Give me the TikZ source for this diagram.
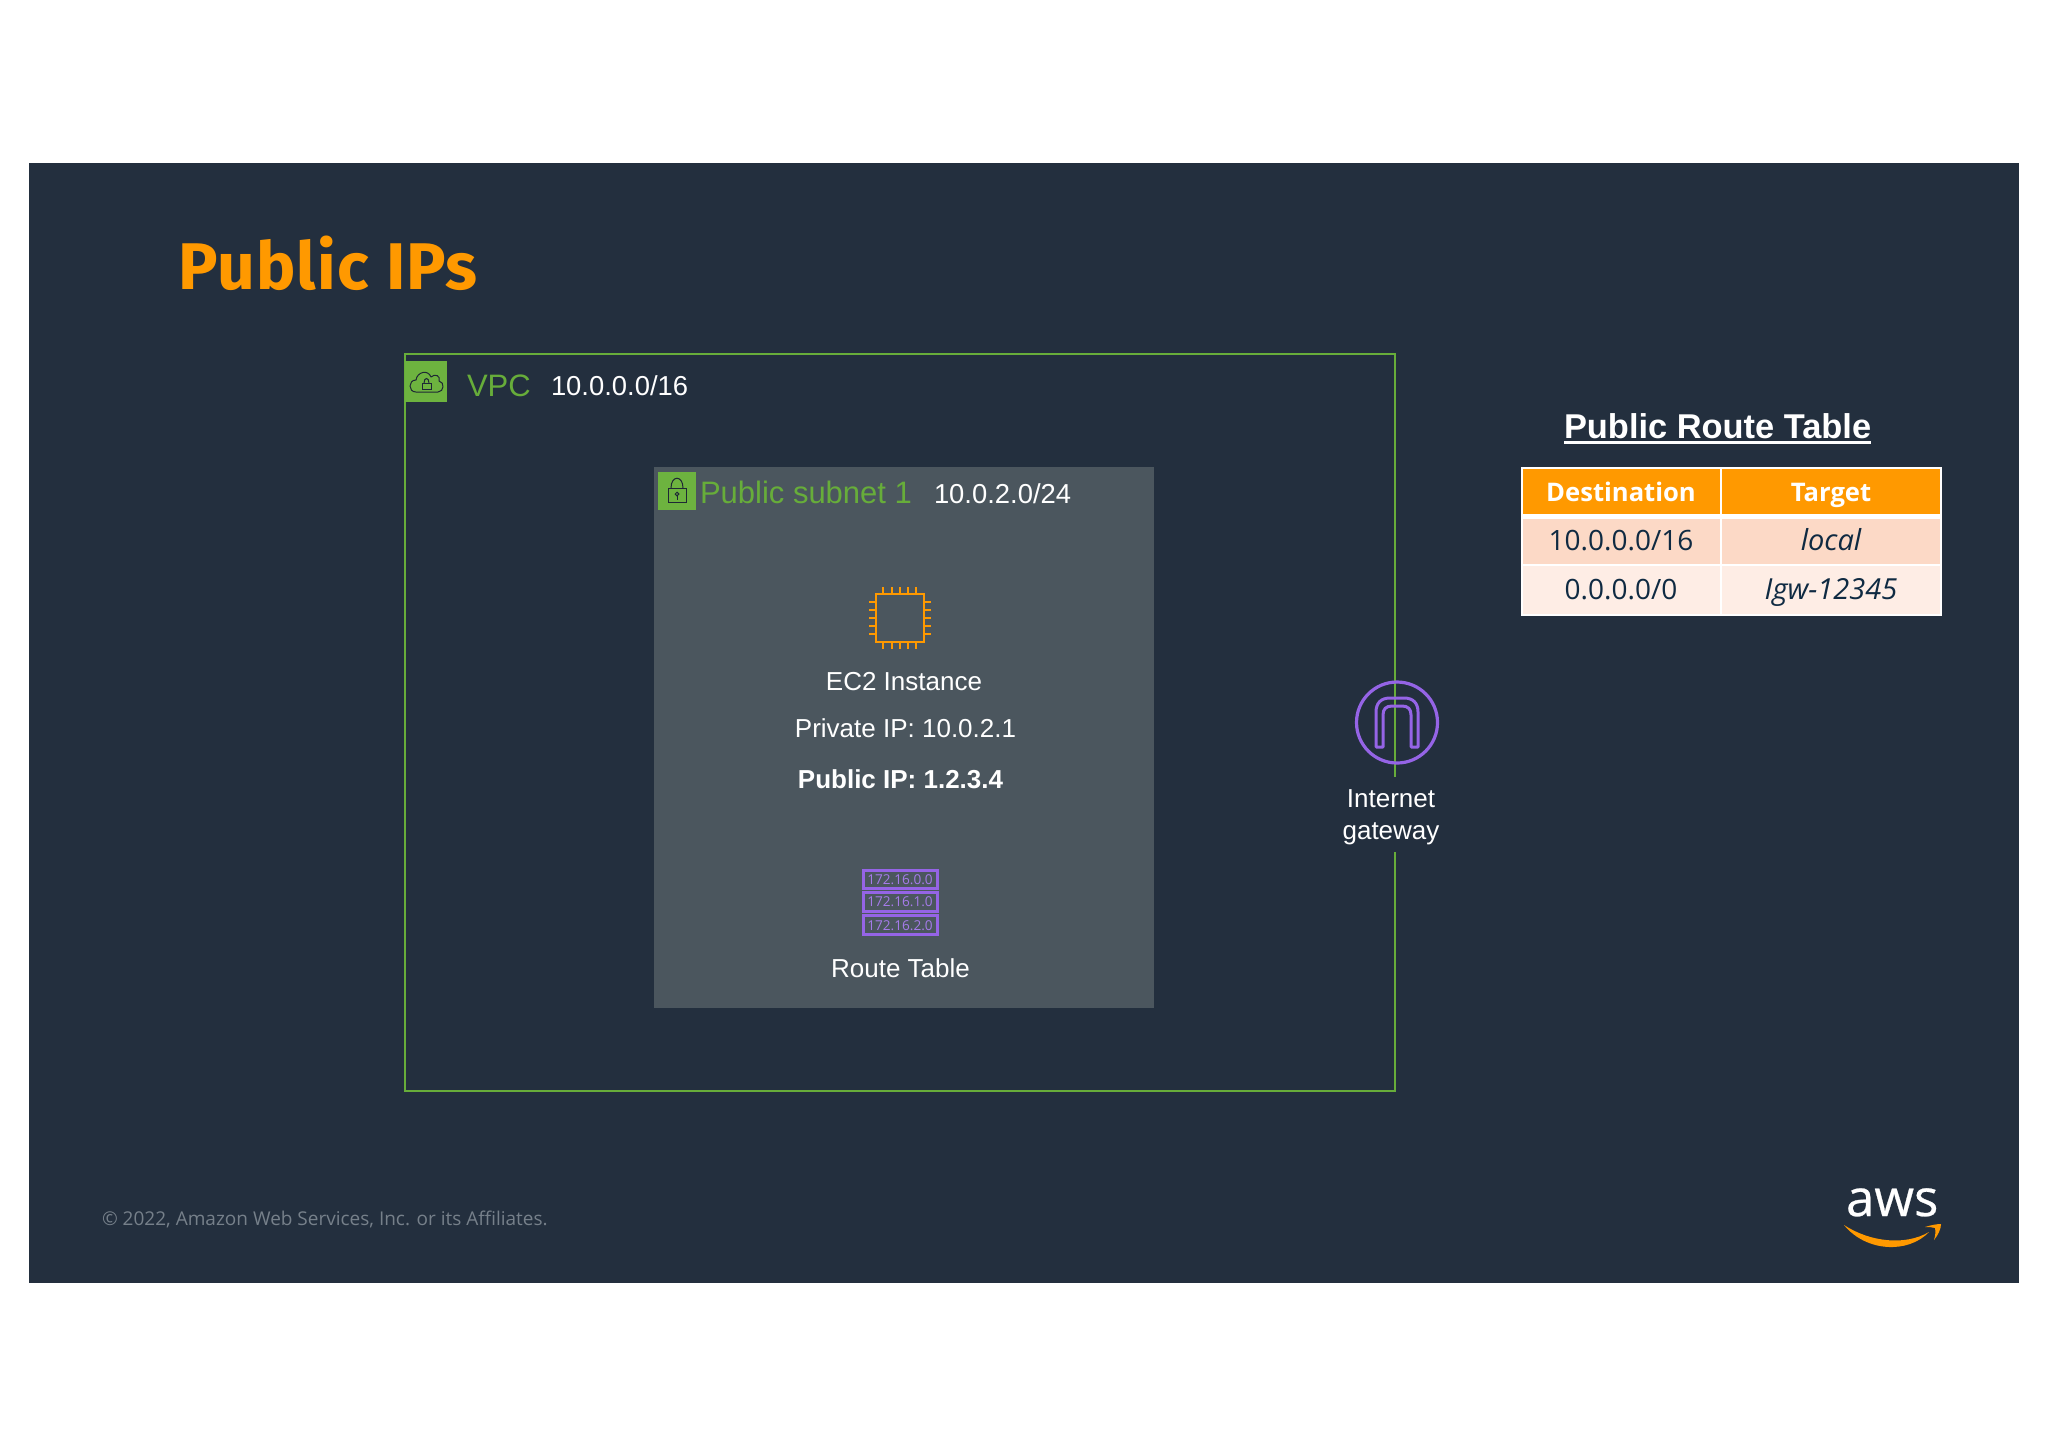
\documentclass[tikz,border=0pt]{standalone}
\usepackage{fontspec}
\setmainfont{Liberation Sans}
\newfontfamily\emberfont{Open Sans}
\newfontfamily\titlefont[LetterSpace=1.9]{Fira Sans}
\newfontfamily\awsfont[FakeBold=0.5]{Open Sans}
\definecolor{panelbg}{HTML}{232F3E}
\definecolor{subnetbg}{HTML}{4B565E}
\definecolor{awsgreen}{HTML}{67AD3A}
\definecolor{tagfill}{HTML}{6DB33F}
\definecolor{awsorange}{HTML}{FF9900}
\definecolor{awspurple}{HTML}{9564E6}
\definecolor{rowa}{HTML}{FCD9C6}
\definecolor{rowb}{HTML}{FEEDE5}
\definecolor{celltext}{HTML}{0F2A42}
\definecolor{footgrey}{HTML}{76808A}
\newcommand{\fsz}[1]{\fontsize{#1}{#1}\selectfont}
\tikzset{
  lbl/.style={inner sep=0pt,outer sep=0pt,anchor=base,text=white},
  lblw/.style={inner sep=0pt,outer sep=0pt,anchor=base west,text=white},
  greenlbl/.style={lblw,text=awsgreen},
  tagbox/.style={fill=tagfill,draw=none},
  iconline/.style={draw=panelbg!85!black,line width=0.5pt},
  chip/.style={draw=awsorange,line width=1.3pt},
  pin/.style={draw=awsorange,line width=1pt},
  rtrow/.style={draw=awspurple,line width=1.5pt},
  rttext/.style={lbl,text=awspurple!85!white,font=\emberfont\fsz{6.8}},
  cellhead/.style={lbl,font=\emberfont\bfseries\fsz{12.8}},
  cell/.style={lbl,text=celltext,font=\emberfont\fsz{14}},
  cellit/.style={lbl,text=celltext,font=\emberfont\itshape\fsz{14.5}},
  arch/.style={draw=awspurple,line width=1.5pt,line join=round},
}
\begin{document}
\begin{tikzpicture}[x=0.5pt,y=-0.5pt]
\useasboundingbox (0,0) rectangle (2048,1447);
\fill[white] (0,0) rectangle (2048,1447);
\fill[panelbg] (29,163) rectangle (2019,1283);
% title
\node[lblw,text=awsorange,font=\titlefont\bfseries\fsz{33}] (title) at (178,289) {Public IPs};
% VPC
\draw[awsgreen,line width=1pt] (405,354) rectangle (1395,1091);
\fill[panelbg] (1385,777) rectangle (1405,852);
\fill[tagbox] (405,361) rectangle (447,402);
\draw[iconline,line join=round] (416,392) .. controls (408,392) and (408,380) .. (416,380) .. controls (417,372) and (428,369) .. (431,377) .. controls (435,373) and (441,376) .. (439,381) .. controls (445,382) and (444,392) .. (438,392) -- cycle;
\draw[iconline] (422,383) rectangle (431,389);
\draw[iconline] (424,383) .. controls (424,377) and (429,377) .. (429,383);
\node[greenlbl,font=\fsz{15.5}] (vpc) at (467,396) {VPC};
\node[lblw,font=\fsz{13.7}] (vpccidr) at (551,395) {10.0.0.0/16};
% subnet
\fill[subnetbg] (654,467) rectangle (1154,1008);
\fill[tagbox] (658,472) rectangle (696,510);
\draw[iconline] (668,488) rectangle (686,502);
\draw[iconline] (671,488) .. controls (671,475) and (683,475) .. (683,488);
\draw[iconline] (677,494) circle[radius=1.8];
\draw[iconline] (677,496) -- (677,500);
\node[greenlbl,font=\fsz{15.5}] (subnet) at (700,503) {Public subnet 1};
\node[lblw,font=\fsz{13.7}] (subnetcidr) at (934,503) {10.0.2.0/24};
% EC2 chip
\draw[chip] (876,594) rectangle (924,642);
\foreach \p in {883,892,900,908,916}{
  \draw[pin] (\p,587) -- (\p,594);
  \draw[pin] (\p,642) -- (\p,649);
}
\foreach \p in {602,610,618,626,634}{
  \draw[pin] (869,\p) -- (876,\p);
  \draw[pin] (924,\p) -- (931,\p);
}
\node[lbl,font=\fsz{13}] (ec2) at (904,690) {EC2 Instance};
\node[lbl,font=\fsz{13}] (priv) at (905.5,737) {Private IP: 10.0.2.1};
\node[lbl,font=\bfseries\fsz{13}] (pub) at (900.5,788) {Public IP: 1.2.3.4};
% route table icon
\draw[rtrow] (863,870) rectangle (937,888);
\draw[rtrow] (863,892) rectangle (937,911);
\draw[rtrow] (863,915) rectangle (937,934);
\node[rttext] (rta) at (900,884) {172.16.0.0};
\node[rttext] (rtb) at (900,906) {172.16.1.0};
\node[rttext] (rtc) at (900,930) {172.16.2.0};
\node[lbl,font=\fsz{13}] (rt) at (900.5,977) {Route Table};
% internet gateway
\draw[awspurple,line width=1.6pt] (1397,722.5) circle[radius=40.5];
\draw[arch] (1376,747) -- (1376,712) .. controls (1376,703) and (1381,698) .. (1390,698) -- (1404,698) .. controls (1413,698) and (1418,703) .. (1418,712) -- (1418,747) -- (1411,747) -- (1411,715) .. controls (1411,709) and (1408,706) .. (1402,706) -- (1392,706) .. controls (1386,706) and (1383,709) .. (1383,715) -- (1383,747) -- cycle;
\node[lbl,font=\fsz{13}] (igwa) at (1391,807.5) {Internet};
\node[lbl,font=\fsz{13}] (igwb) at (1391,839) {gateway};
% route table title
\node[lblw,font=\bfseries\fsz{17.2}] (rttitle) at (1564,438) {Public Route Table};
\fill[white] (1564,441) rectangle (1871,443.5);
% table
\fill[white] (1521,467) rectangle (1942,616);
\fill[awsorange] (1523,469) rectangle (1720,514);
\fill[awsorange] (1722,469) rectangle (1940,514);
\fill[rowa] (1523,519) rectangle (1720,564);
\fill[rowa] (1722,519) rectangle (1940,564);
\fill[rowb] (1523,566) rectangle (1720,614);
\fill[rowb] (1722,566) rectangle (1940,614);
\node[cellhead] (h1) at (1621,501) {Destination};
\node[cellhead] (h2) at (1831,501) {Target};
\node[cell] (c11) at (1621,550) {10.0.0.0/16};
\node[cellit] (c12) at (1831,550) {local};
\node[cell] (c21) at (1621,599) {0.0.0.0/0};
\node[cellit] (c22) at (1831,599) {Igw-12345};
% footer
\node[lblw,text=footgrey,font=\emberfont\fsz{9.5}] (foot) at (102,1225.5) {© 2022, Amazon Web Services, Inc. or its Affiliates.};
% aws logo
\node[lblw,font=\awsfont\fsz{25.5}] (aws) at (1846,1216) {aws};
\fill[awsorange] (1844,1225) .. controls (1870,1242) and (1905,1246) .. (1929,1232) .. controls (1908,1254) and (1866,1252) .. (1844,1225) -- cycle;
\fill[awsorange] (1925,1227) .. controls (1931,1225) and (1937,1224) .. (1941,1224) .. controls (1941,1229) and (1938,1235) .. (1934,1240) .. controls (1935,1236) and (1936,1232) .. (1935,1228) .. controls (1932,1227) and (1929,1227) .. (1925,1227) -- cycle;
\end{tikzpicture}
\end{document}
